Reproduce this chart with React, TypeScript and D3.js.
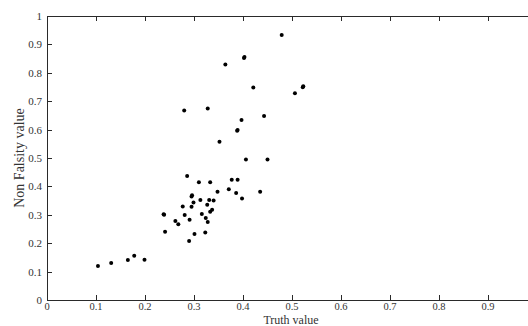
import React, { useRef, useEffect } from "react";
import * as d3 from "d3";

// Truth value (x) and Non Falsity value (y)
const truthValues = [
  0.104, 0.131, 0.165, 0.178, 0.199,
  0.238, 0.239, 0.241, 0.262, 0.268, 0.277, 0.281, 0.291, 0.290, 0.295, 0.299, 0.301,
  0.296, 0.295, 0.286, 0.310, 0.333, 0.313, 0.331, 0.340, 0.316, 0.323, 0.324, 0.328,
  0.327, 0.333, 0.337, 0.348, 0.371, 0.377, 0.389, 0.386, 0.398, 0.435, 0.406, 0.450,
  0.352, 0.388, 0.389, 0.397, 0.443, 0.280, 0.328, 0.421, 0.364, 0.402, 0.403, 0.479,
  0.522, 0.523, 0.506,
];
const nonFalsityValues = [
  0.120, 0.130, 0.141, 0.156, 0.142,
  0.302, 0.300, 0.240, 0.278, 0.267, 0.329, 0.299, 0.283, 0.208, 0.328, 0.343, 0.232,
  0.369, 0.364, 0.437, 0.415, 0.415, 0.352, 0.352, 0.350, 0.303, 0.238, 0.289, 0.275,
  0.335, 0.311, 0.318, 0.381, 0.390, 0.423, 0.423, 0.377, 0.357, 0.381, 0.495, 0.495,
  0.557, 0.596, 0.599, 0.634, 0.648, 0.667, 0.674, 0.748, 0.829, 0.852, 0.856, 0.933,
  0.749, 0.753, 0.728,
];
const xTicks = [0, 0.1, 0.2, 0.3, 0.4, 0.5, 0.6, 0.7, 0.8, 0.9, 1];
const yTicks = [0, 0.1, 0.2, 0.3, 0.4, 0.5, 0.6, 0.7, 0.8, 0.9, 1];

const App = () => {
  const ref = useRef<SVGSVGElement>(null);

  useEffect(() => {
    const width = 528;
    const height = 326;
    const left = 47, right = 537, top = 16, bottom = 300;
    const axisColor = "#2a2a2a";
    const textColor = "#333";
    const font = "'Liberation Serif', 'DejaVu Serif', serif";

    const svg = d3.select(ref.current).attr("width", width).attr("height", height);
    svg.selectAll("*").remove();

    const x = d3.scaleLinear().domain([0, 1]).range([left, right]);
    const y = d3.scaleLinear().domain([0, 1]).range([bottom, top]);

    // box lines (right side falls outside the window)
    svg.append("path")
      .attr("d", `M${right},${top + 0.5}H${left + 0.5}V${bottom + 0.5}H${right}`)
      .attr("fill", "none")
      .attr("stroke", axisColor)
      .attr("stroke-width", 1);

    // ticks pointing inward on bottom, top and left
    const tickLen = 5;
    xTicks.forEach((t) => {
      const px = Math.round(x(t)) + 0.5;
      svg.append("line").attr("x1", px).attr("x2", px)
        .attr("y1", bottom).attr("y2", bottom - tickLen).attr("stroke", axisColor);
      svg.append("line").attr("x1", px).attr("x2", px)
        .attr("y1", top).attr("y2", top + tickLen).attr("stroke", axisColor);
    });
    yTicks.forEach((t) => {
      const py = Math.round(y(t)) + 0.5;
      svg.append("line").attr("x1", left).attr("x2", left + tickLen)
        .attr("y1", py).attr("y2", py).attr("stroke", axisColor);
    });

    // tick labels
    svg.selectAll("text.xtick")
      .data(xTicks.filter((t) => t < 1))
      .enter()
      .append("text")
      .attr("class", "xtick")
      .attr("x", (d) => x(d))
      .attr("y", 310)
      .attr("text-anchor", "middle")
      .style("font-family", font)
      .style("font-size", "10.5px")
      .style("fill", textColor)
      .text((d) => d3.format("~g")(d));

    svg.selectAll("text.ytick")
      .data(yTicks)
      .enter()
      .append("text")
      .attr("class", "ytick")
      .attr("x", 42)
      .attr("y", (d) => y(d) + 4)
      .attr("text-anchor", "end")
      .style("font-family", font)
      .style("font-size", "11px")
      .style("fill", textColor)
      .text((d) => d3.format("~g")(d));

    // axis titles
    svg.append("text")
      .attr("x", 291)
      .attr("y", 323.5)
      .attr("text-anchor", "middle")
      .style("font-family", font)
      .style("font-size", "12px")
      .style("fill", textColor)
      .text("Truth value");

    svg.append("text")
      .attr("transform", "translate(24,158) rotate(-90)")
      .attr("text-anchor", "middle")
      .style("font-family", font)
      .style("font-size", "14px")
      .style("fill", textColor)
      .text("Non Falsity value");

    // points
    svg.selectAll("circle")
      .data(truthValues.map((t, i) => [t, nonFalsityValues[i]]))
      .enter()
      .append("circle")
      .attr("cx", (d) => x(d[0]))
      .attr("cy", (d) => y(d[1]))
      .attr("r", 2)
      .attr("fill", "#000");
  }, []);

  return (
    <div style={{ position: "absolute", left: 0, top: 0 }}>
      <svg ref={ref} style={{ display: "block" }}></svg>
    </div>
  );
};

export default App;
